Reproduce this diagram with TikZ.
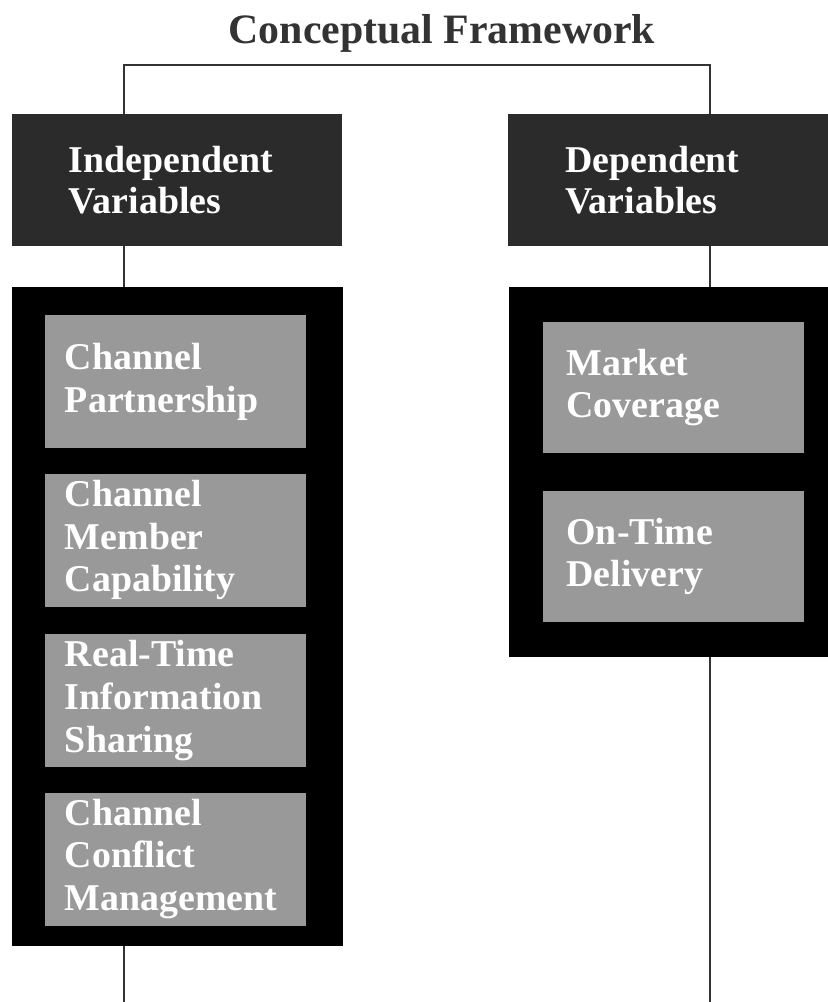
\documentclass[tikz,border=0pt]{standalone}
\usepackage{fontspec}
\setmainfont{Liberation Serif}
\definecolor{hdgray}{HTML}{2B2B2B}
\definecolor{boxgray}{HTML}{999999}
\definecolor{lngray}{HTML}{333333}
\tikzstyle{hd}=[fill=hdgray,text=white,minimum width=330bp,minimum height=132bp,inner xsep=57bp,inner ysep=0pt,text width=216bp,align=left,font=\fontsize{38}{41}\selectfont\bfseries]
\tikzstyle{grp}=[fill=black,minimum width=330bp,inner sep=0pt]
\tikzstyle{vr}=[fill=boxgray,text=white,minimum width=261bp,minimum height=133bp,inner xsep=20bp,inner ysep=0pt,text width=221bp,align=left,font=\fontsize{38}{43}\selectfont\bfseries]
\tikzstyle{ln}=[draw=lngray,line width=1.5bp]

\begin{document}
\begin{tikzpicture}[x=1bp,y=-1bp]
\useasboundingbox (0,0) rectangle (828,1002);
\clip (0,0) rectangle (828,1002);
\node[anchor=base,text=lngray,font=\fontsize{42}{48}\selectfont\bfseries] (ttl) at (442,43) {Conceptual Framework};
\node[hd] (ind) at (177,180) {Independent\\Variables};
\node[hd] (dep) at (673,180) {Dependent\\Variables};
\node[grp,minimum height=659bp] (igrp) at (177.5,616.5) {};
\node[grp,minimum height=370bp] (dgrp) at (674,472) {};
\foreach \t/\y [count=\i] in {{Channel\\Partnership}/381.5,{Channel\\Member\\Capability}/540,{Real-Time\\Information\\Sharing}/700.5,{Channel\\Conflict\\Management}/859}
  \node[vr] (iv\i) at (175.5,\y) {\t};
\foreach \t/\y [count=\i] in {{Market\\Coverage}/387.5,{On-Time\\Delivery}/556.5}
  \node[vr,minimum height=131bp,inner xsep=24bp,text width=213bp] (dv\i) at (673,\y) {\t};
\coordinate (tl) at (124,65); \coordinate (tr) at (710,65);
\coordinate (bl) at (124,1002); \coordinate (br) at (710,1002);
\draw[ln] (ind.north -| tl) -- (tl) -- (tr) -- (dep.north -| tr);
\draw[ln] (ind.south -| tl) -- (igrp.north -| tl);
\draw[ln] (dep.south -| tr) -- (dgrp.north -| tr);
\draw[ln] (igrp.south -| tl) -- (bl);
\draw[ln] (dgrp.south -| tr) -- (br);
\end{tikzpicture}
\end{document}
